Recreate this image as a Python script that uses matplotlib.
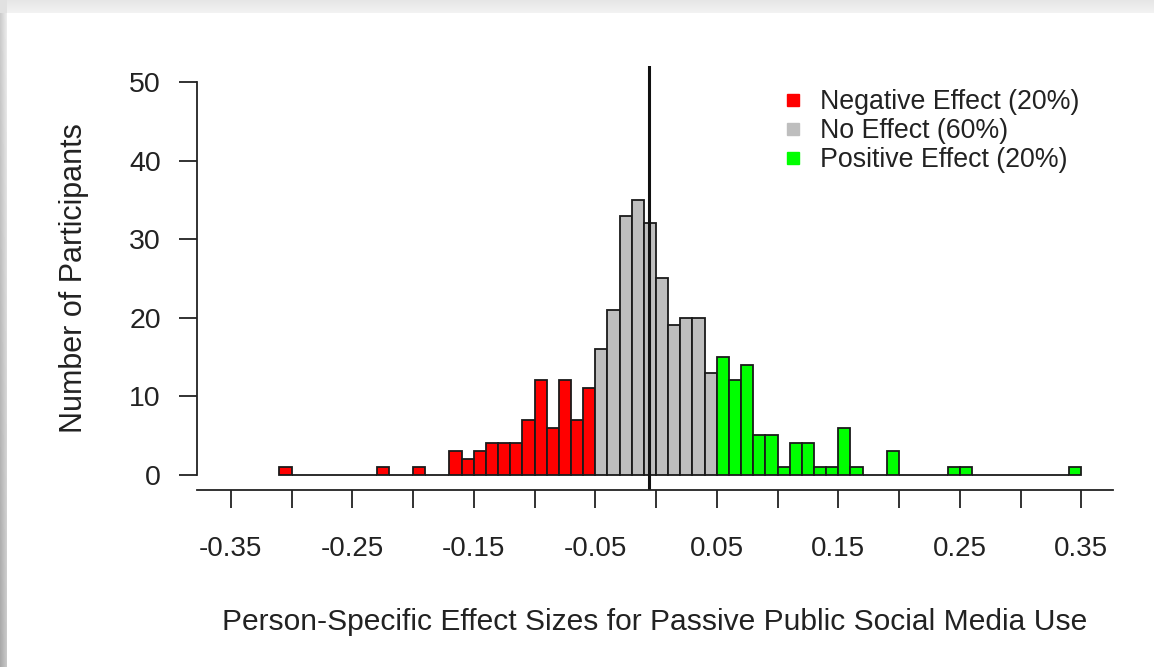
import numpy as np
import matplotlib
matplotlib.use("Agg")
import matplotlib.pyplot as plt
from matplotlib.lines import Line2D

plt.rcParams['font.family'] = ['Liberation Sans', 'DejaVu Sans']

# histogram of person-specific effect sizes, bins of width 0.01
BIN_START = -0.31
BIN_WIDTH = 0.01
counts = [1, 0, 0, 0, 0, 0, 0, 0, 1, 0, 0, 1, 0, 0,          # -0.31 .. -0.18
          3, 2, 3, 4, 4, 4, 7, 12, 6, 12, 7, 11,              # -0.17 .. -0.06
          16, 21, 33, 35, 32, 25, 19, 20, 20, 13,             # -0.05 .. 0.04
          15, 12, 14, 5, 5, 1, 4, 4, 1, 1, 6, 1,              # 0.05 .. 0.16
          0, 0, 3, 0, 0, 0, 0, 1, 1,                          # 0.17 .. 0.25
          0, 0, 0, 0, 0, 0, 0, 0, 1]                          # 0.26 .. 0.34
mean_effect = -0.0055

group_labels = ["Negative Effect (20%)", "No Effect (60%)", "Positive Effect (20%)"]
group_colors = ["#FF0000", "#BEBEBE", "#00FF00"]
group_cuts = [-0.05, 0.05]

x_ticks = np.round(np.arange(-0.35, 0.351, 0.05), 2)
x_ticklabels = ["%.2f" % t if i % 2 == 0 else "" for i, t in enumerate(x_ticks)]
y_ticks = [0, 10, 20, 30, 40, 50]

W, H = 1154, 667
fig = plt.figure(figsize=(W / 100, H / 100), dpi=100)

# drop-shadow frame of the screenshot
bg = fig.add_axes([0, 0, 1, 1])
img = np.ones((H, W))
top = 13
left = 7
for r in range(top):
    img[r, :] = 0.90 + 0.05 * r / top
for c in range(left):
    img[top:, c] = np.linspace(0.80, 0.66, H - top) + 0.02 * c
img[:top, :left] = 0.88
bg.imshow(img, cmap="gray", vmin=0, vmax=1, aspect="auto", interpolation="bilinear")
bg.set_axis_off()

ax = fig.add_axes([197 / W, 1 - 490.4 / H, (1113 - 197) / W, (490.4 - 66.3) / H])
ax.patch.set_alpha(0)

edges = BIN_START + BIN_WIDTH * np.arange(len(counts))
colors = []
for e in edges:
    mid = e + BIN_WIDTH / 2
    if mid < group_cuts[0]:
        colors.append(group_colors[0])
    elif mid < group_cuts[1]:
        colors.append(group_colors[1])
    else:
        colors.append(group_colors[2])

ax.bar(edges, counts, width=BIN_WIDTH, align="edge", color=colors,
       edgecolor="#1a1a1a", linewidth=1.3)
ax.axvline(mean_effect, color="#111111", linewidth=2.2)

ax.set_xlim(-0.3778, 0.3761)
ax.set_ylim(-2, 52)

for s in ["top", "right"]:
    ax.spines[s].set_visible(False)
ax.spines["left"].set_bounds(0, 50)
for s in ["left", "bottom"]:
    ax.spines[s].set_linewidth(1.3)
    ax.spines[s].set_color("#222222")

ax.set_xticks(x_ticks)
ax.set_xticklabels(x_ticklabels)
ax.set_yticks(y_ticks)
ax.tick_params(axis="x", length=13, width=1.3, pad=20, labelsize=20, colors="#222222")
ax.tick_params(axis="y", length=13, width=1.3, pad=13, labelsize=20.5, colors="#222222")

ax.set_xlabel("Person-Specific Effect Sizes for Passive Public Social Media Use",
              fontsize=21.6, color="#222222", labelpad=33)
ax.set_ylabel("Number of Participants", fontsize=22, color="#222222", labelpad=29)

handles = [Line2D([], [], marker="s", linestyle="none", markersize=9,
                  markerfacecolor=c, markeredgecolor=c) for c in group_colors]
ax.legend(handles, group_labels, loc="upper left", bbox_to_anchor=(784 / W, 1 - 89 / H),
          bbox_transform=fig.transFigure, frameon=False, fontsize=19.3,
          handlelength=0.7, handletextpad=0.65, labelspacing=0.12, borderpad=0,
          borderaxespad=0, labelcolor="#222222")

fig.savefig("out.png", dpi=100)
